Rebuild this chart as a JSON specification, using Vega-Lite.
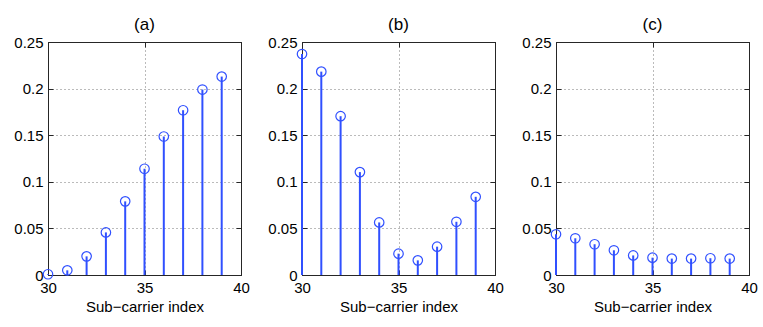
{
  "$schema": "https://vega.github.io/schema/vega-lite/v6.json",
  "padding": {"left": 13, "top": 15, "right": 5, "bottom": 5},
  "background": "white",
  "config": {
    "font": "Liberation Sans",
    "view": {"stroke": "#262626", "strokeWidth": 1},
    "title": {"fontSize": 17, "fontWeight": "normal", "color": "#000", "offset": 1, "font": "Liberation Sans"},
    "axis": {"labelFont": "Liberation Sans", "titleFont": "Liberation Sans", "labelFontSize": 15, "titleFontSize": 15, "titleFontWeight": "normal", "labelColor": "#000", "titleColor": "#000", "domainColor": "#262626", "tickColor": "#262626", "gridColor": "#777", "gridDash": [1, 3], "gridOpacity": 1, "tickSize": -5, "labelPadding": 10, "labelFlush": false}
  },
  "spacing": 17,
  "datasets": {
    "stems": [
      {"panel": "a", "k": 30, "v": 0.0008},
      {"panel": "a", "k": 31, "v": 0.005},
      {"panel": "a", "k": 32, "v": 0.020},
      {"panel": "a", "k": 33, "v": 0.0457},
      {"panel": "a", "k": 34, "v": 0.079},
      {"panel": "a", "k": 35, "v": 0.114},
      {"panel": "a", "k": 36, "v": 0.1486},
      {"panel": "a", "k": 37, "v": 0.1768},
      {"panel": "a", "k": 38, "v": 0.199},
      {"panel": "a", "k": 39, "v": 0.2129},
      {"panel": "b", "k": 30, "v": 0.2371},
      {"panel": "b", "k": 31, "v": 0.2182},
      {"panel": "b", "k": 32, "v": 0.1704},
      {"panel": "b", "k": 33, "v": 0.1104},
      {"panel": "b", "k": 34, "v": 0.0564},
      {"panel": "b", "k": 35, "v": 0.0229},
      {"panel": "b", "k": 36, "v": 0.0157},
      {"panel": "b", "k": 37, "v": 0.0304},
      {"panel": "b", "k": 38, "v": 0.0571},
      {"panel": "b", "k": 39, "v": 0.0839},
      {"panel": "c", "k": 30, "v": 0.0437},
      {"panel": "c", "k": 31, "v": 0.0394},
      {"panel": "c", "k": 32, "v": 0.033},
      {"panel": "c", "k": 33, "v": 0.0265},
      {"panel": "c", "k": 34, "v": 0.021},
      {"panel": "c", "k": 35, "v": 0.0186},
      {"panel": "c", "k": 36, "v": 0.0176},
      {"panel": "c", "k": 37, "v": 0.0176},
      {"panel": "c", "k": 38, "v": 0.018},
      {"panel": "c", "k": 39, "v": 0.0176}
    ]
  },
  "hconcat": [
    {
      "title": "(a)",
      "width": 193, "height": 233,
      "data": {"name": "stems"},
      "transform": [{"filter": "datum.panel == 'a'"}],
      "resolve": {"axis": {"x": "independent", "y": "independent"}},
      "layer": [
        {
          "mark": {"type": "rule", "color": "#3050ff", "strokeWidth": 2},
          "encoding": {
            "x": {"field": "k", "type": "quantitative", "scale": {"domain": [30, 40], "nice": false}, "axis": {"values": [30, 35, 40], "title": "Sub−carrier index", "grid": true, "titlePadding": 4}},
            "y": {"field": "v", "type": "quantitative", "scale": {"domain": [0, 0.25], "nice": false}, "axis": {"values": [0, 0.05, 0.1, 0.15, 0.2, 0.25], "format": "~g", "title": null, "grid": true}},
            "y2": {"datum": 0}
          }
        },
        {
          "mark": {"type": "point", "shape": "circle", "filled": false, "size": 90, "color": "#3050ff", "strokeWidth": 1.2, "opacity": 1},
          "encoding": {
            "x": {"field": "k", "type": "quantitative", "axis": {"orient": "top", "values": [30, 35, 40], "labels": false, "title": null, "grid": false}},
            "y": {"field": "v", "type": "quantitative", "axis": {"orient": "right", "values": [0, 0.05, 0.1, 0.15, 0.2, 0.25], "labels": false, "title": null, "grid": false}}
          }
        }
      ]
    },
    {
      "title": "(b)",
      "width": 193, "height": 233,
      "data": {"name": "stems"},
      "transform": [{"filter": "datum.panel == 'b'"}],
      "resolve": {"axis": {"x": "independent", "y": "independent"}},
      "layer": [
        {
          "mark": {"type": "rule", "color": "#3050ff", "strokeWidth": 2},
          "encoding": {
            "x": {"field": "k", "type": "quantitative", "scale": {"domain": [30, 40], "nice": false}, "axis": {"values": [30, 35, 40], "title": "Sub−carrier index", "grid": true, "titlePadding": 4}},
            "y": {"field": "v", "type": "quantitative", "scale": {"domain": [0, 0.25], "nice": false}, "axis": {"values": [0, 0.05, 0.1, 0.15, 0.2, 0.25], "format": "~g", "title": null, "grid": true}},
            "y2": {"datum": 0}
          }
        },
        {
          "mark": {"type": "point", "shape": "circle", "filled": false, "size": 90, "color": "#3050ff", "strokeWidth": 1.2, "opacity": 1},
          "encoding": {
            "x": {"field": "k", "type": "quantitative", "axis": {"orient": "top", "values": [30, 35, 40], "labels": false, "title": null, "grid": false}},
            "y": {"field": "v", "type": "quantitative", "axis": {"orient": "right", "values": [0, 0.05, 0.1, 0.15, 0.2, 0.25], "labels": false, "title": null, "grid": false}}
          }
        }
      ]
    },
    {
      "title": "(c)",
      "width": 193, "height": 233,
      "data": {"name": "stems"},
      "transform": [{"filter": "datum.panel == 'c'"}],
      "resolve": {"axis": {"x": "independent", "y": "independent"}},
      "layer": [
        {
          "mark": {"type": "rule", "color": "#3050ff", "strokeWidth": 2},
          "encoding": {
            "x": {"field": "k", "type": "quantitative", "scale": {"domain": [30, 40], "nice": false}, "axis": {"values": [30, 35, 40], "title": "Sub−carrier index", "grid": true, "titlePadding": 4}},
            "y": {"field": "v", "type": "quantitative", "scale": {"domain": [0, 0.25], "nice": false}, "axis": {"values": [0, 0.05, 0.1, 0.15, 0.2, 0.25], "format": "~g", "title": null, "grid": true}},
            "y2": {"datum": 0}
          }
        },
        {
          "mark": {"type": "point", "shape": "circle", "filled": false, "size": 90, "color": "#3050ff", "strokeWidth": 1.2, "opacity": 1},
          "encoding": {
            "x": {"field": "k", "type": "quantitative", "axis": {"orient": "top", "values": [30, 35, 40], "labels": false, "title": null, "grid": false}},
            "y": {"field": "v", "type": "quantitative", "axis": {"orient": "right", "values": [0, 0.05, 0.1, 0.15, 0.2, 0.25], "labels": false, "title": null, "grid": false}}
          }
        }
      ]
    }
  ]
}
